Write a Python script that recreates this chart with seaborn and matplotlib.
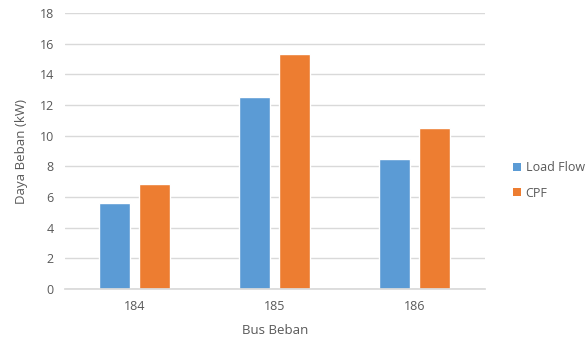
import matplotlib
matplotlib.use("Agg")
import matplotlib.pyplot as plt
import seaborn as sns
import pandas as pd
from matplotlib.patches import Patch

buses = ["184", "185", "186"]
load_flow = [5.6, 12.5, 8.5]
cpf = [6.85, 15.35, 10.5]
series_names = ["Load Flow", "CPF"]
colors = ["#5B9BD5", "#ED7D31"]

df = pd.DataFrame({
    "Bus": buses * 2,
    "Value": load_flow + cpf,
    "Series": [series_names[0]] * 3 + [series_names[1]] * 3,
})

sns.set_theme(style="white")
plt.rcParams["font.family"] = ["Open Sans", "DejaVu Sans"]

fig = plt.figure(figsize=(5.87, 3.47), dpi=100)
ax = fig.add_axes([0.1107, 0.167, 0.715, 0.7955])
sns.barplot(data=df, x="Bus", y="Value", hue="Series", palette=colors,
            width=0.571, gap=0.225, ax=ax, legend=False, saturation=1)

ax.set_ylim(0, 18)
ax.set_yticks(range(0, 19, 2))
ax.set_xlim(-0.5, 2.5)
ax.grid(axis="y", color="#d9d9d9", linewidth=1)
ax.set_axisbelow(True)
for s in ["top", "right", "left"]:
    ax.spines[s].set_visible(False)
ax.spines["bottom"].set_color("#d9d9d9")
ax.tick_params(axis="both", length=0, labelsize=9, labelcolor="#595959", pad=8)
ax.set_xlabel("Bus Beban", fontsize=9.5, color="#595959", labelpad=8)
ax.set_ylabel("Daya Beban (kW)", fontsize=9.5, color="#595959", labelpad=8)

handles = [Patch(facecolor=c, edgecolor="none") for c in colors]
fig.legend(handles, series_names, loc="center left", bbox_to_anchor=(0.855, 0.48),
           frameon=False, fontsize=9, labelcolor="#595959",
           handlelength=0.6, handleheight=0.6, handletextpad=0.4, labelspacing=1.0)

fig.savefig("out.png", dpi=100, facecolor="white")
